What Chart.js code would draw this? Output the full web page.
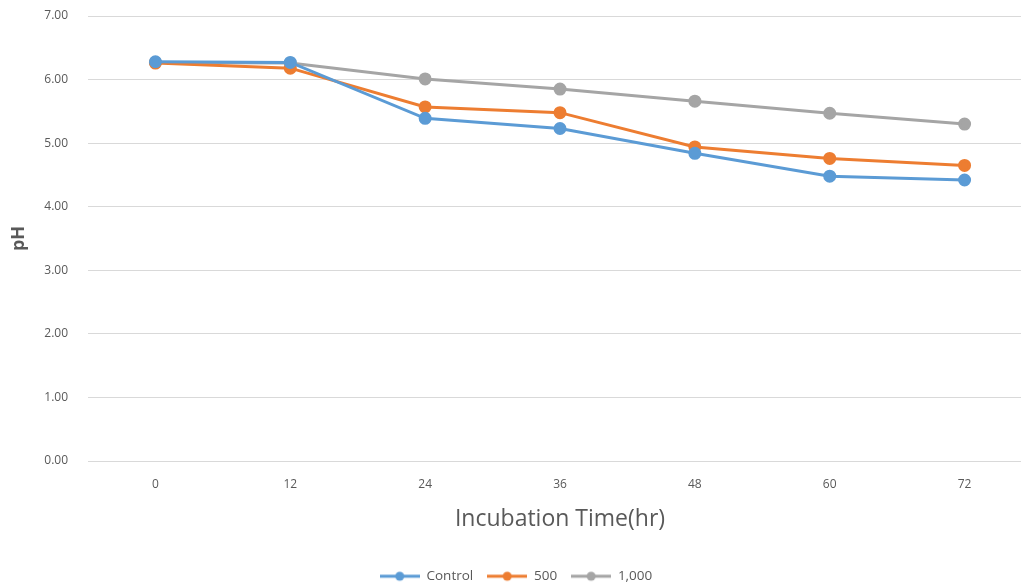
<!DOCTYPE html>
<html>
<head>
<meta charset="utf-8">
<script src="https://cdn.jsdelivr.net/npm/chart.js@4"></script>
<style>
  html, body { margin: 0; padding: 0; background: #fff; overflow: hidden; }
  #wrap { position: absolute; left: 0; top: 0; width: 1040px; height: 586px; }
</style>
</head>
<body>
<div id="wrap"><canvas id="myChart" width="1040" height="586"></canvas></div>
<script>
const hours = ['0', '12', '24', '36', '48', '60', '72'];
const control = [6.28, 6.27, 5.39, 5.23, 4.84, 4.48, 4.42];
const dose500 = [6.26, 6.18, 5.57, 5.48, 4.94, 4.76, 4.65];
const dose1000 = [6.27, 6.26, 6.01, 5.85, 5.66, 5.47, 5.30];
const seriesNames = ['Control', '500', '1,000'];
const seriesColors = ['#5b9bd5', '#ed7d31', '#a5a5a5'];

const textColor = '#595959';
const baseFont = "'Open Sans', 'Noto Sans', sans-serif";
const padBottom = -7;

// little legend marker: line with a dot in the middle
const makeMarker = function(color) {
    const c = document.createElement('canvas');
    c.width = 40; c.height = 12;
    const ctx = c.getContext('2d');
    ctx.strokeStyle = color;
    ctx.lineWidth = 3;
    ctx.beginPath();
    ctx.moveTo(0, 6); ctx.lineTo(40, 6);
    ctx.stroke();
    ctx.fillStyle = color;
    ctx.beginPath();
    ctx.arc(20, 6, 4.5, 0, Math.PI * 2);
    ctx.fill();
    return c;
};

const makeDataset = function(name, data, color) {
    return {
        label: name,
        data,
        borderColor: color,
        backgroundColor: color,
        borderWidth: 3,
        pointRadius: 5,
        pointHoverRadius: 5,
        pointBackgroundColor: color,
        pointBorderColor: color,
        fill: false,
        tension: 0,
    };
};

const canvas = document.getElementById('myChart');
new Chart(canvas, {
    type: 'line',
    data: {
        labels: hours,
        datasets: [
            makeDataset(seriesNames[0], control, seriesColors[0]),
            makeDataset(seriesNames[1], dose500, seriesColors[1]),
            makeDataset(seriesNames[2], dose1000, seriesColors[2]),
        ],
    },
    options: {
        responsive: false,
        animation: false,
        layout: { padding: { top: 16, right: 8, left: 0, bottom: padBottom } },
        plugins: {
            tooltip: { enabled: false },
            legend: {
                display: true,
                position: 'bottom',
                labels: {
                    usePointStyle: true,
                    pointStyleWidth: 40,
                    font: { family: baseFont, size: 13.5 },
                    color: textColor,
                    padding: 14,
                    generateLabels: function(chart) {
                        return chart.data.datasets.map((ds, i) => ({
                            text: ds.label,
                            fillStyle: ds.borderColor,
                            strokeStyle: ds.borderColor,
                            fontColor: textColor,
                            lineWidth: 0,
                            pointStyle: makeMarker(ds.borderColor),
                            hidden: false,
                            datasetIndex: i,
                        }));
                    },
                },
            },
        },
        scales: {
            x: {
                offset: true,
                grid: { display: false, drawTicks: false },
                border: { display: false },
                ticks: {
                    color: textColor,
                    font: { family: baseFont, size: 12 },
                    padding: 16,
                },
                title: {
                    display: true,
                    text: 'Incubation Time(hr)',
                    color: textColor,
                    font: { family: baseFont, size: 23 },
                    padding: { top: 8, bottom: 22 },
                },
                afterFit: function(scale) {
                    scale.height = 586 - padBottom - 461 - scale.chart.legend.height;
                },
            },
            y: {
                min: 0,
                max: 7,
                ticks: {
                    stepSize: 1,
                    color: textColor,
                    font: { family: baseFont, size: 12 },
                    padding: 20,
                    callback: v => v.toFixed(2),
                },
                grid: { color: '#d9d9d9', lineWidth: 1, drawTicks: false },
                border: { display: false },
                title: {
                    display: true,
                    text: 'pH',
                    color: textColor,
                    font: { family: baseFont, size: 18, weight: 'bold' },
                    padding: { top: 8, bottom: 0 },
                },
                afterFit: function(scale) {
                    scale.width = 88;
                    scale.paddingTop = 0;
                    scale.paddingBottom = 0;
                },
            },
        },
    },
});
</script>
</body>
</html>
